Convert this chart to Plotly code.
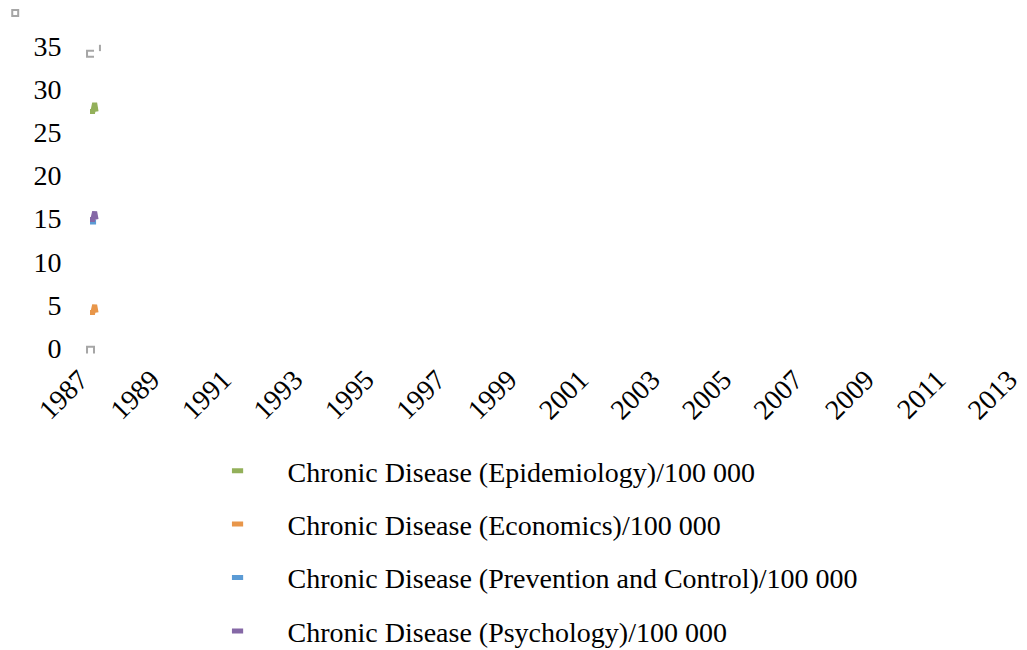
import plotly.graph_objects as go

# series collapsed next to the first year in the reference
years = [1987.00, 1987.08, 1987.13, 1987.17]
epidemiology = [27.4, 27.4, 28.4, 27.4]
economics = [4.1, 4.1, 5.0, 4.1]
prevention = [14.6, 14.6, 14.6, 14.6]
psychology = [14.9, 14.9, 15.8, 14.9]

names = [
    "Chronic Disease (Epidemiology)/100 000",
    "Chronic Disease (Economics)/100 000",
    "Chronic Disease (Prevention and Control)/100 000",
    "Chronic Disease (Psychology)/100 000",
]
series = [epidemiology, economics, prevention, psychology]
colors = ["#93b05a", "#e8964a", "#5b9bd5", "#8568a6"]

x_ticks = list(range(1987, 2014, 2))
y_ticks = [0, 5, 10, 15, 20, 25, 30, 35]

FONT = "Liberation Serif"

fig = go.Figure()
for i, (name, vals, col) in enumerate(zip(names, series, colors)):
    fig.add_trace(go.Scatter(
        x=years, y=vals, mode="lines", name=name,
        line=dict(color=col, width=5), showlegend=False,
        legendgroup=f"g{i}",
    ))
    # legend entry drawn as a short thick dash
    fig.add_trace(go.Scatter(
        x=[None], y=[None], mode="markers", name=name,
        marker=dict(symbol="line-ew", size=8, color=col,
                    line=dict(color=col, width=5)),
        legendgroup=f"g{i}",
    ))

# little grey handles left over around the collapsed plot area
grey = "#a6a6a6"
handle = dict(type="path", xref="paper", yref="paper",
              line=dict(color=grey, width=2))
fig.add_shape(type="rect", xref="paper", yref="paper",
              x0=-0.0837, x1=-0.0773, y0=1.099, y1=1.119,
              line=dict(color=grey, width=2))
fig.add_shape(path="M 0.0043,0.984 L -0.0032,0.984 L -0.0032,0.964 L 0.0043,0.964", **handle)
fig.add_shape(path="M 0.0107,1.004 L 0.0107,0.983", **handle)
fig.add_shape(path="M -0.0032,-0.018 L -0.0032,0.004 L 0.0043,0.004 L 0.0043,-0.018", **handle)

# the page body adds an 8px margin, so the figure is 8px smaller each way
fig.update_layout(
    width=1019, height=642,
    paper_bgcolor="white", plot_bgcolor="white",
    font=dict(family=FONT, size=28, color="black"),
    margin=dict(l=82, r=8, t=38, b=302),
    xaxis=dict(range=[1987, 2013], tickvals=x_ticks, tickangle=-45,
               showgrid=False, zeroline=False, showline=False,
               ticks="outside", ticklen=3, tickcolor="rgba(0,0,0,0)",
               tickfont=dict(size=28), automargin=False,
               ticklabelshift=-10, ticklabeloverflow="allow"),
    yaxis=dict(range=[0, 35], tickvals=y_ticks, showgrid=False,
               zeroline=False, showline=False,
               ticks="outside", ticklen=22, tickcolor="rgba(0,0,0,0)",
               tickfont=dict(size=28), automargin=False),
    legend=dict(x=0.1050, y=1 - 438 / 642, yref="container",
                xanchor="left", yanchor="top",
                orientation="v", traceorder="grouped", tracegroupgap=14,
                itemwidth=90, bgcolor="rgba(0,0,0,0)",
                font=dict(family=FONT, size=28)),
)

fig.write_html("out.html")
